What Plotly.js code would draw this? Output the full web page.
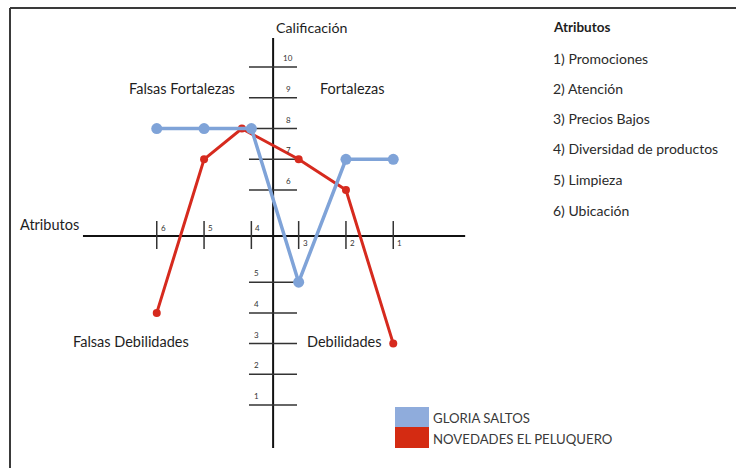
<!DOCTYPE html>
<html><head><meta charset="utf-8">
<script src="https://cdn.plot.ly/plotly-3.0.1.min.js"></script>
<style>html,body{margin:0;padding:0;background:#fff}#chart{width:736px;height:468px}</style>
</head><body><div id="chart"></div>
<script>
// ---- data ----
const atributos = [6, 5, 4, 3, 2, 1];
const atributosNombres = ['Promociones', 'Atención', 'Precios Bajos', 'Diversidad de productos', 'Limpieza', 'Ubicación'];
const gloriaX = [6, 5, 4, 3, 2, 1];
const gloriaCalif = [8, 8, 8, 5, 7, 7];
const novedadesX = [6, 5, 4.2, 3, 2, 1];
const novedadesCalif = [4, 7, 8, 7, 6, 3];
const califTicks = [10, 9, 8, 7, 6, 5, 4, 3, 2, 1];
const serieNombres = ['GLORIA SALTOS', 'NOVEDADES EL PELUQUERO'];
const serieColores = ['#7FA3D8', '#D62A1E'];
const swatchColores = ['#8FACDC', '#D42B12'];

// broken vertical scale: ratings 6..10 above the attribute axis, 1..5 below it
const pos = r => (r >= 6 ? r : r - 2);
const AXIS_Y = 4.5;   // attribute axis crossing
const AXIS_X = 3.54;  // rating axis crossing

const W = 736, H = 468;
const px = x => x / W;          // pixel -> paper
const py = y => 1 - y / H;

const FONT = 'Lato, "Open Sans", sans-serif';
const shapes = [];
const ann = [];

// frame
shapes.push({type:'line', xref:'paper', yref:'paper', x0:px(10), x1:px(736), y0:py(8), y1:py(8), line:{color:'#3a3a3a', width:2}});
shapes.push({type:'line', xref:'paper', yref:'paper', x0:px(10), x1:px(10), y0:py(8), y1:py(468), line:{color:'#3a3a3a', width:2}});

// axes
shapes.push({type:'line', xref:'x', yref:'y', layer:'below', x0:7.56, x1:-0.52, y0:AXIS_Y, y1:AXIS_Y, line:{color:'#111', width:2}});
shapes.push({type:'line', xref:'x', yref:'y', layer:'below', x0:AXIS_X, x1:AXIS_X, y0:10.95, y1:-2.4, line:{color:'#111', width:2}});

// rating ticks + labels
califTicks.forEach(r => {
  shapes.push({type:'line', xref:'x', yref:'y', layer:'below', x0:4.05, x1:3.035, y0:pos(r), y1:pos(r), line:{color:'#333', width:1.5}});
  ann.push({xref:'x', yref:'y', x:(r >= 6 ? 3.22 : 3.9), y:pos(r), xanchor:'center', yanchor:'middle', yshift:9, text:String(r), showarrow:false,
            font:{family:FONT, size:8, color:'#333'}});
});

// attribute ticks + labels
atributos.forEach(a => {
  shapes.push({type:'line', xref:'x', yref:'y', layer:'below', x0:a, x1:a, y0:4.99, y1:4.08, line:{color:'#333', width:1.5}});
  ann.push({xref:'x', yref:'y', x:a, y:AXIS_Y, xanchor:'left', yanchor:'middle', xshift:2, yshift:(a >= 4 ? 8 : -7), text:String(a), showarrow:false,
            font:{family:FONT, size:8, color:'#333'}});
});

// texts
const txt = (x, y, t, size, opts = {}) => ann.push(Object.assign({xref:'paper', yref:'paper', x:px(x), y:py(y), text:t, showarrow:false,
  xanchor:'center', yanchor:'middle', font:{family:FONT, size:size, color:'#1e1e1e'}}, opts));
txt(311, 27, 'Calificación', 14.2);
txt(182, 88, 'Falsas Fortalezas', 14.5);
txt(352, 88, 'Fortalezas', 14.5);
txt(18, 224, 'Atributos', 14.5, {xanchor:'left'});
txt(131, 341, 'Falsas Debilidades', 14.5);
txt(344, 341, 'Debilidades', 14.5);

txt(551, 27, '<b>Atributos</b>', 13.5, {xanchor:'left'});
const listY = [58, 88, 118, 148, 180, 211];
atributosNombres.forEach((n, i) => txt(551, listY[i], (i + 1) + ') ' + n, 14, {xanchor:'left', font:{family:FONT, size:14, color:'#2a2a2a'}}));

// legend swatches
const legY = [[407, 427], [427, 448]];
serieNombres.forEach((n, i) => {
  shapes.push({type:'rect', xref:'paper', yref:'paper', x0:px(395), x1:px(429), y0:py(legY[i][0]), y1:py(legY[i][1]),
               fillcolor:swatchColores[i], line:{width:0}});
  txt(431, (legY[i][0] + legY[i][1]) / 2 + 1, n, 13.2, {xanchor:'left', font:{family:FONT, size:13.2, color:'#3a3a3a'}});
});

const traces = [
  {x:novedadesX, y:novedadesCalif.map(pos), customdata:novedadesCalif, name:serieNombres[1], type:'scatter', mode:'lines+markers',
   line:{color:serieColores[1], width:3}, marker:{color:serieColores[1], size:8}},
  {x:gloriaX, y:gloriaCalif.map(pos), customdata:gloriaCalif, name:serieNombres[0], type:'scatter', mode:'lines+markers',
   line:{color:serieColores[0], width:3.5}, marker:{color:serieColores[0], size:11}}
];

const layout = {
  width:W, height:H, margin:{l:0, r:0, t:0, b:0},
  paper_bgcolor:'#fff', plot_bgcolor:'#fff', showlegend:false,
  xaxis:{range:[9.314, -6.246], visible:false, fixedrange:true},
  yaxis:{range:[-3.049, 12.185], visible:false, fixedrange:true},
  shapes:shapes, annotations:ann
};
Plotly.newPlot('chart', traces, layout, {displayModeBar:false, staticPlot:true});
</script></body></html>
